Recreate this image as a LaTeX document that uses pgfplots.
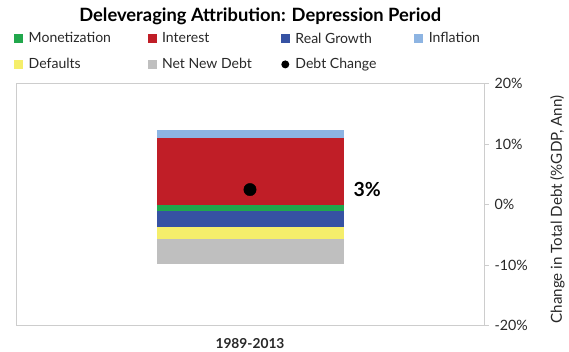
\documentclass[border=0pt]{standalone}
\usepackage{pgfplots}
\pgfplotsset{compat=1.18}
\usepackage{fontspec}
\setmainfont{Lato}
\definecolor{cGreen}{RGB}{33,167,76}
\definecolor{cRed}{RGB}{192,30,39}
\definecolor{cBlue}{RGB}{54,82,163}
\definecolor{cLBlue}{RGB}{141,180,226}
\definecolor{cYellow}{RGB}{245,238,107}
\definecolor{cGray}{RGB}{191,191,191}
\definecolor{cFrame}{RGB}{205,205,205}
\definecolor{cText}{RGB}{40,40,40}
\newcommand{\lt}[1]{\makebox[117bp][l]{#1}}
\begin{document}
\begin{tikzpicture}
\useasboundingbox (0,0) rectangle (569bp,352bp);
\pgfplotsset{
  common/.style={
    at={(16bp,26.3bp)}, anchor=south west,
    width=468bp, height=242bp, scale only axis,
    xmin=-1.25, xmax=1.25, ymin=-20, ymax=20,
    ybar stacked, bar width=187bp,
  },
  sq/.style={legend image code/.code={\fill[##1] (0bp,-4bp) rectangle (8bp,4bp);}},
}
\begin{axis}[common,
  axis line style={cFrame, line width=0.8pt},
  ytick={-20,-10,0,10,20},
  ytick pos=right, yticklabel pos=right,
  tick align=outside, major tick length=5bp,
  ytick style={cFrame, line width=0.8pt},
  yticklabel={\pgfmathprintnumber{\tick}\%},
  /pgf/number format/assume math mode=true,
  yticklabel style={font=\fontsize{14.3}{16}\selectfont, text=cText, xshift=2bp},
  xtick={0}, xticklabels={1989-2013},
  xtick style={draw=none},
  xticklabel style={font=\fontsize{13.8}{15}\selectfont\bfseries, text=cText, yshift=-4bp},
  ylabel={Change in Total Debt (\%GDP, Ann)},
  ylabel style={at={(axis description cs:1.157,0.48)}, anchor=center, rotate=0, font=\fontsize{15.2}{17}\selectfont, text=cText},
  title={\textbf{Deleveraging Attribution: Depression Period}},
  title style={at={(axis description cs:0.522,1.252)}, anchor=center, font=\fontsize{18.4}{21}\selectfont, text=black},
  legend columns=4,
  legend style={at={(axis description cs:-0.004,1.22)}, anchor=north west, draw=none, fill=none,
    font=\fontsize{14.1}{15}\selectfont, text=cText, row sep=10bp, inner sep=0pt,
    /tikz/every odd column/.append style={column sep=4bp}},
]
\addplot[forget plot, draw=cFrame, line width=0.8pt, sharp plot] coordinates {(-1.25,0) (1.25,0)};
\addplot[forget plot, fill=cRed, draw=none] coordinates {(0,11.0)};
\addplot[forget plot, fill=cLBlue, draw=none] coordinates {(0,1.4)};
\addlegendimage{sq, cGreen}\addlegendentry{\lt{Monetization}}
\addlegendimage{sq, cRed}\addlegendentry{\lt{Interest}}
\addlegendimage{sq, cBlue}\addlegendentry{\lt{Real Growth}}
\addlegendimage{sq, cLBlue}\addlegendentry{\lt{Inflation}}
\addlegendimage{sq, cYellow}\addlegendentry{\lt{Defaults}}
\addlegendimage{sq, cGray}\addlegendentry{\lt{Net New Debt}}
\addlegendimage{legend image code/.code={\path[draw=none, fill=none] (0bp,-4bp) rectangle (8bp,4bp);\path[fill=black, draw=none] (4bp,0bp) circle (4bp);}}\addlegendentry{\lt{Debt Change}}
\end{axis}
\begin{axis}[common, hide axis]
\addplot[fill=cGreen, draw=none] coordinates {(0,-1.0)};
\addplot[fill=cBlue, draw=none] coordinates {(0,-2.7)};
\addplot[fill=cYellow, draw=none] coordinates {(0,-1.9)};
\addplot[fill=cGray, draw=none] coordinates {(0,-4.2)};
\end{axis}
\begin{axis}[at={(16bp,26.3bp)}, anchor=south west,
    width=468bp, height=242bp, scale only axis,
    xmin=-1.25, xmax=1.25, ymin=-20, ymax=20, hide axis]
\addplot[only marks, mark=*, mark size=6.2bp, black,
  nodes near coords={\textbf{3\%}},
  every node near coord/.style={anchor=west, xshift=100bp, font=\fontsize{19.5}{22}\selectfont, text=black}]
  coordinates {(0,2.5)};
\end{axis}
\end{tikzpicture}
\end{document}
